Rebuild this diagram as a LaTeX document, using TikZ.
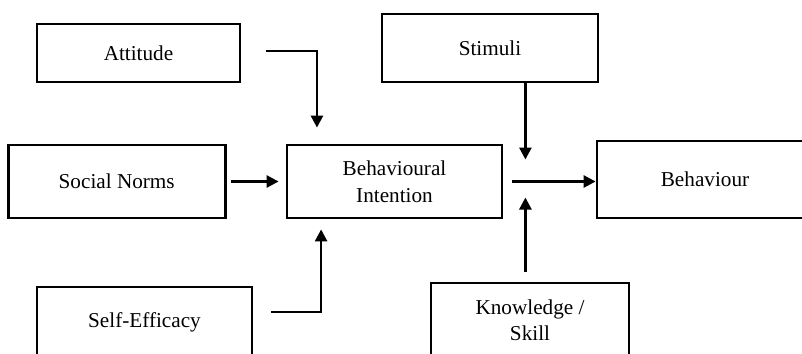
\documentclass[tikz,border=0pt]{standalone}
\usepackage{fontspec}
\setmainfont{Liberation Serif}
\usetikzlibrary{positioning,calc,arrows.meta}

\tikzset{
  block/.style={draw, line width=2.8pt, inner sep=0pt, align=center,
    font=\fontsize{21.2}{26.5}\selectfont},
  link/.style={line width=2.6pt, -{Triangle[width=12pt,length=12pt]}},
}

\begin{document}
\begin{tikzpicture}[x=1pt,y=-1pt]
  \clip (0,0) rectangle (802,353);
  \node[block, minimum width=215pt, minimum height=73pt] (bi) at (394.5,181.5) {Behavioural\\Intention};
  \node[block, minimum width=217pt, minimum height=73pt, left=59pt of bi] (norms) {Social Norms};
  \node[block, minimum width=203pt, minimum height=58pt] (att) at (138.5,53) {Attitude};
  \node[block, minimum width=215pt, minimum height=70pt] (self) at (144.5,322) {Self-Efficacy};
  \node[block, minimum width=216pt, minimum height=68pt] (stim) at (490,48) {Stimuli};
  \node[block, minimum width=216pt, minimum height=77pt] (beh) at (705,179.5) {Behaviour};
  \node[block, minimum width=198pt, minimum height=74pt] (know) at (530,320) {Knowledge /\\Skill};
  \coordinate[right=22pt of bi.east] (joint);
  %
  \draw[link, shorten >=16pt] ([xshift=25pt,yshift=2pt]att.east) -| ($(bi.north west)!0.144!(bi.north east)$);
  \draw[link, shorten <=4pt, shorten >=7pt] (norms) -- (bi);
  \draw[link, shorten >=10pt] ([xshift=18pt,yshift=10pt]self.east) -| ($(bi.south west)!0.163!(bi.south east)$);
  \draw[link, shorten <=9pt] (bi.east) -- (bi.east -| beh.west);
  \draw[link, shorten >=22pt] (stim.south -| joint) -- (joint);
  \draw[link, shorten <=10pt, shorten >=16pt] (know.north -| joint) -- (joint);
\end{tikzpicture}
\end{document}
